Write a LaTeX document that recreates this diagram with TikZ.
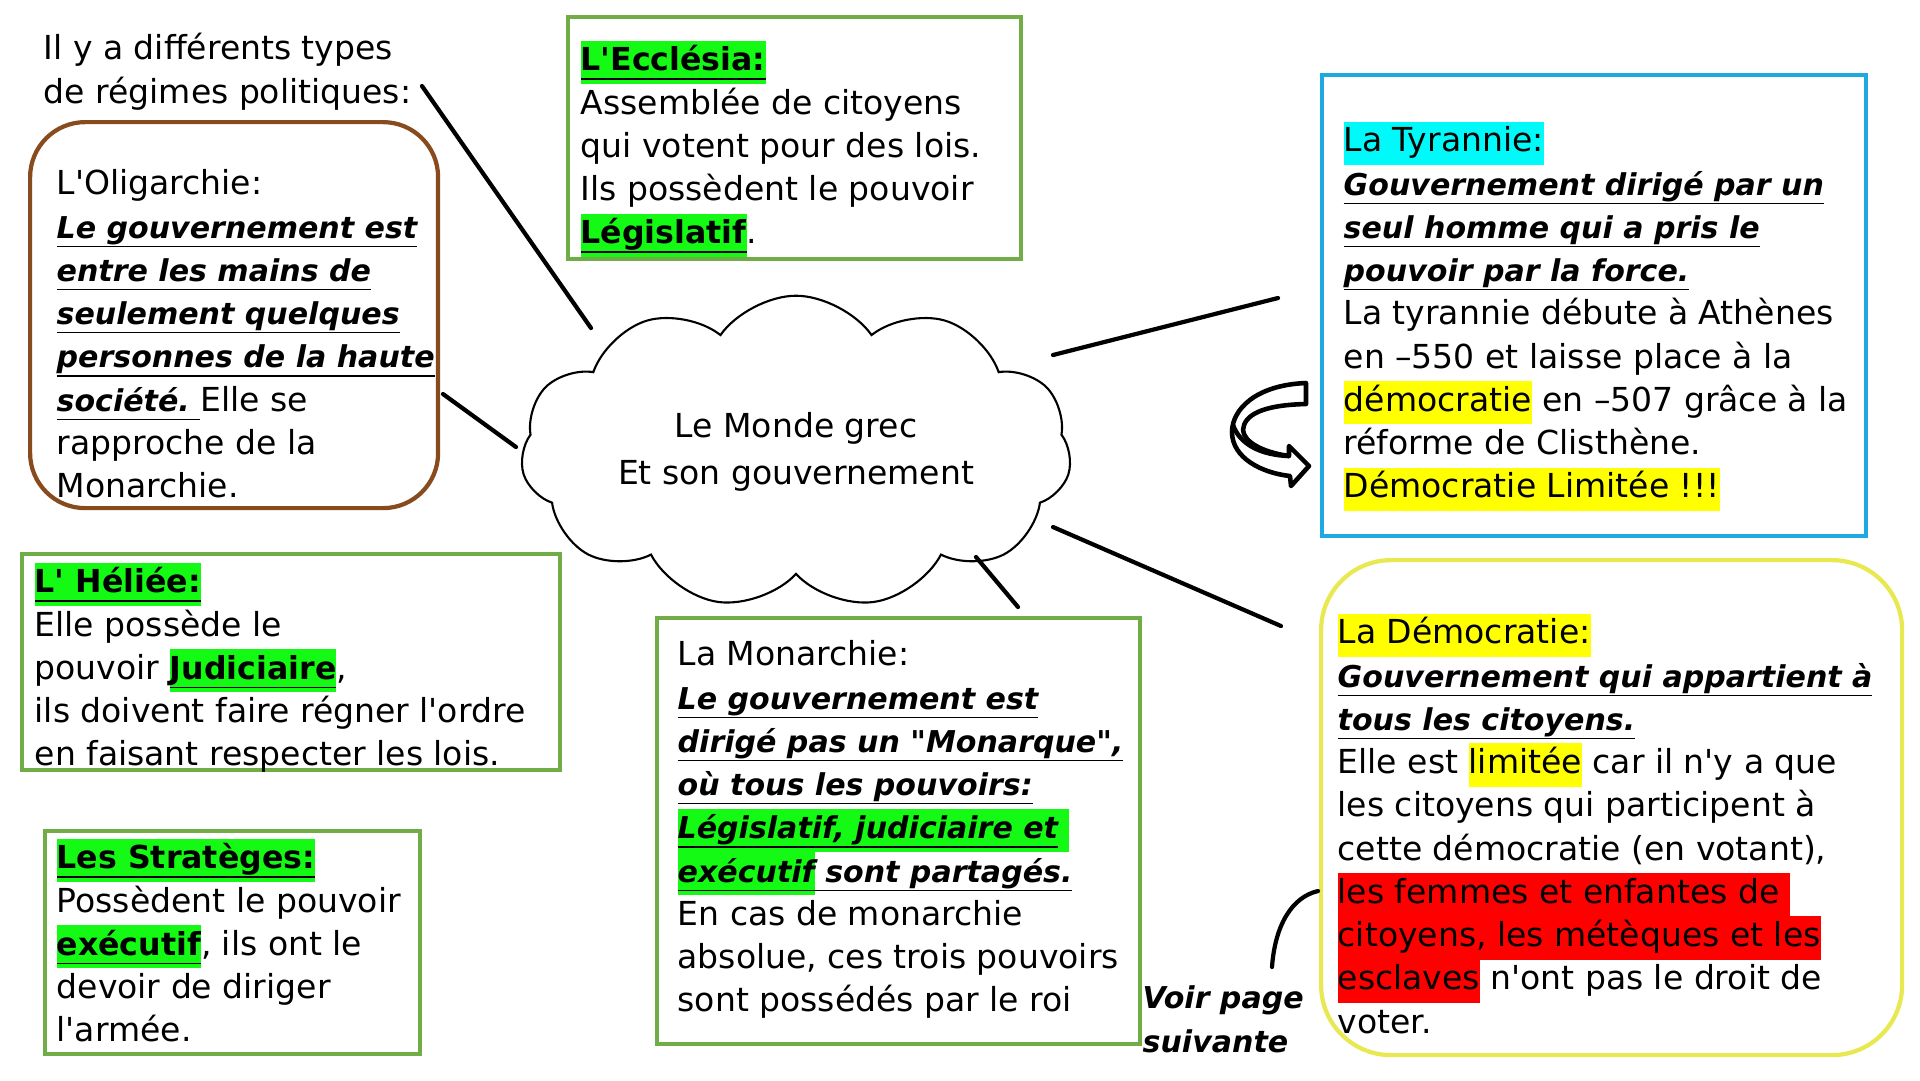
\documentclass[tikz,border=0pt]{standalone}
\usepackage{fontspec}
\newfontfamily\schoolfont{DejaVu Sans}
\usepackage{tikz}
\usetikzlibrary{shapes.symbols}
\usetikzlibrary{positioning}

\definecolor{boxgreen}{RGB}{112,173,71}
\definecolor{boxblue}{RGB}{30,170,225}
\definecolor{boxbrown}{RGB}{135,75,30}
\definecolor{boxyellow}{RGB}{232,232,80}
\definecolor{hlgreen}{RGB}{20,250,20}
\definecolor{hlcyan}{RGB}{0,250,250}
\definecolor{hlyellow}{RGB}{255,255,0}
\definecolor{hlred}{RGB}{255,0,0}

\newcommand{\hl}[2]{{\setlength{\fboxsep}{0pt}\colorbox{#1}{\strut#2}}}
\newcommand{\ulbox}[1]{\underline{\smash{#1}\rule[-0.9pt]{0pt}{0pt}}}
\newcommand{\defn}[1]{{\fontsize{8.55}{12.3}\selectfont\bfseries\itshape #1}}
\newcommand{\titre}[1]{{\fontsize{9}{12.3}\selectfont\bfseries #1}}

\tikzset{
  box/.style={draw=#1, line width=1.2pt, inner sep=0pt, anchor=north west},
  roundbox/.style={box=#1, rounded corners=5.5mm},
  txt/.style={inner sep=0pt, align=left, anchor=north west,
    font=\schoolfont\fontsize{9.4}{12.3}\selectfont},
  link/.style={line width=1.2pt, line cap=round},
}

\begin{document}
\begin{tikzpicture}[x=0.1mm,y=-0.1mm]
        \fill[white] (0,0) rectangle (1920,1080);
        \useasboundingbox (0,0) rectangle (1920,1080);

        % boxes
        \node[roundbox=boxbrown, minimum width=40.8mm, minimum height=38.6mm] (olig) at (28,120) {};
        \node[box=boxgreen, minimum width=45.3mm, minimum height=24.2mm] (eccl) at (566,15) {};
        \node[box=boxblue, minimum width=54.4mm, minimum height=46.1mm] (tyr) at (1320,73) {};
        \node[roundbox=boxyellow, rounded corners=7mm, minimum width=58.1mm, minimum height=49.5mm] (demo) at (1319,558) {};
        \node[box=boxgreen, minimum width=53.8mm, minimum height=21.6mm] (heli) at (20,552) {};
        \node[box=boxgreen, minimum width=37.5mm, minimum height=22.3mm] (strat) at (43,829) {};
        \node[box=boxgreen, minimum width=48.3mm, minimum height=42.6mm] (mona) at (655,616) {};

        % texts
        \node[txt] (intro) at (43,29) {\strut Il y a différents types\\de régimes politiques:};
        \node[txt, below right=4.4mm and 2.8mm of olig.north west] (olig-txt) {\strut L'Oligarchie:\\
          \ulbox{\defn{Le gouvernement est}}\\
          \ulbox{\defn{entre les mains de}}\\
          \ulbox{\defn{seulement quelques}}\\
          \ulbox{\defn{personnes de la haute}}\\
          \ulbox{\defn{société.}~}Elle se\\
          rapproche de la\\
          Monarchie.};
        \node[txt, below right=2.5mm and 1.4mm of eccl.north west] (eccl-txt) {\hl{hlgreen}{\ulbox{\titre{L'Ecclésia:}}}\\
          Assemblée de citoyens\\
          qui votent pour des lois.\\
          Ils possèdent le pouvoir\\
          \hl{hlgreen}{\ulbox{\titre{Législatif}}}.};
        \node[txt, below right=4.8mm and 2.3mm of tyr.north west] (tyr-txt) {\hl{hlcyan}{La Tyrannie:}\\
          \ulbox{\defn{Gouvernement dirigé par un}}\\
          \ulbox{\defn{seul homme qui a pris le}}\\
          \ulbox{\defn{pouvoir par la force.}}\\
          La tyrannie débute à Athènes\\
          en –550 et laisse place à la\\
          \hl{hlyellow}{démocratie} en –507 grâce à la\\
          réforme de Clisthène.\\
          \hl{hlyellow}{Démocratie Limitée !!!}};
        \node[txt, below right=5.5mm and 1.8mm of demo.north west] (demo-txt) {\hl{hlyellow}{La Démocratie:}\\
          \ulbox{\defn{Gouvernement qui appartient à}}\\
          \ulbox{\defn{tous les citoyens.}}\\
          Elle est \hl{hlyellow}{limitée} car il n'y a que\\
          les citoyens qui participent à\\
          cette démocratie (en votant),\\
          \hl{hlred}{les femmes et enfantes de\ }\\
          \hl{hlred}{citoyens, les métèques et les}\\
          \hl{hlred}{esclaves} n'ont pas le droit de\\
          voter.};
        \node[txt, below right=1.0mm and 1.4mm of heli.north west] (heli-txt) {\hl{hlgreen}{\ulbox{\titre{L' Héliée:}}}\\
          Elle possède le\\
          pouvoir \hl{hlgreen}{\ulbox{\titre{Judiciaire}}},\\
          ils doivent faire régner l'ordre\\
          en faisant respecter les lois.};
        \node[txt, below right=0.9mm and 1.3mm of strat.north west] (strat-txt) {\hl{hlgreen}{\ulbox{\titre{Les Stratèges:}}}\\
          Possèdent le pouvoir\\
          \hl{hlgreen}{\ulbox{\titre{exécutif}}}, ils ont le\\
          devoir de diriger\\
          l'armée.};
        \node[txt, below right=1.9mm and 2.2mm of mona.north west] (mona-txt) {\strut La Monarchie:\\
          \ulbox{\defn{Le gouvernement est}}\\
          \ulbox{\defn{dirigé pas un "Monarque",}}\\
          \ulbox{\defn{où tous les pouvoirs:}}\\
          \hl{hlgreen}{\ulbox{\defn{Législatif, judiciaire et}}\ }\\
          \hl{hlgreen}{\ulbox{\defn{exécutif}}}\ulbox{\defn{ sont partagés.}}\\
          En cas de monarchie\\
          absolue, ces trois pouvoirs\\
          sont possédés par le roi};
        \node[txt] (voir) at (1142,978) {\strut\defn{Voir page}\\\defn{suivante}};

        % the cloud
        \node[cloud, draw, line width=0.6pt, cloud puffs=11, cloud puff arc=110, aspect=2.2,
          minimum width=54mm, minimum height=22mm, align=center,
          font=\schoolfont\fontsize{9.4}{13.5}\selectfont] (cloud) at (796,452) {Le Monde grec\\Et son gouvernement};

        % connectors
        \coordinate (p-intro) at (422,86);  \coordinate (q-intro) at (591,328);
        \coordinate (p-olig) at (443,394);  \coordinate (q-olig) at (516,447);
        \coordinate (p-tyr) at (1278,298);  \coordinate (q-tyr) at (1053,355);
        \coordinate (p-demo) at (1281,626); \coordinate (q-demo) at (1053,527);
        \coordinate (p-mona) at (1018,607); \coordinate (q-mona) at (976,557);
        \coordinate (p-voir) at (1272,967); \coordinate (q-voir) at (1318,891);
        \draw[link] (p-intro) -- (q-intro);
        \draw[link] (p-olig) -- (q-olig);
        \draw[link] (q-tyr) -- (p-tyr);
        \draw[link] (q-demo) -- (p-demo);
        \draw[link] (q-mona) -- (p-mona);
        \draw[link] (p-voir) .. controls (1275,925) and (1292,897) .. (q-voir);

        % u-turn arrow
        \draw[line width=1.3pt, line join=round, fill=white]
          (1306,383) .. controls (1255,385) and (1232,410) .. (1232,432)
          .. controls (1232,458) and (1262,473) .. (1290,476)
          -- (1291,486) -- (1309,466) -- (1289,446) -- (1289,456)
          .. controls (1262,452) and (1244,442) .. (1243,430)
          .. controls (1244,415) and (1262,405) .. (1306,404) -- cycle;
        \draw[line width=1.3pt] (1233,425) .. controls (1240,445) and (1262,455) .. (1289,456);
    \end{tikzpicture}
\end{document}
